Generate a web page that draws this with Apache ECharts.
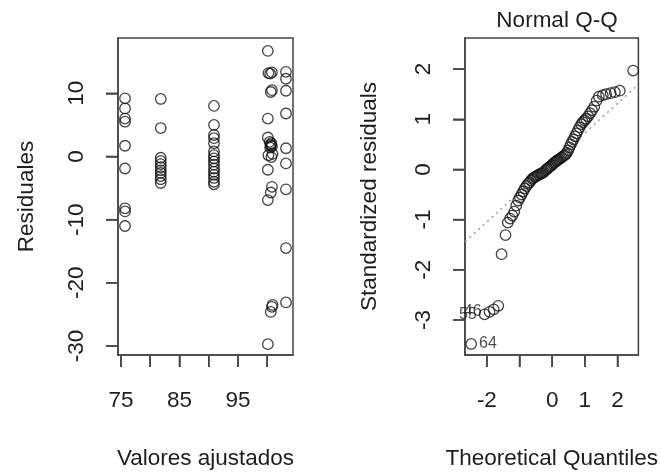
<!DOCTYPE html>
<html>
<head>
<meta charset="utf-8">
<script src="https://cdn.jsdelivr.net/npm/echarts@6/dist/echarts.min.js"></script>
<style>html,body{margin:0;padding:0;background:#fff}#c{width:661px;height:475px}</style>
</head>
<body>
<div id="c"></div>
<script>
// ---- Left panel: residuals vs fitted values ----
const fittedValues = [
  75.7,75.7,75.7,75.7,75.7,75.7,75.7,75.7,75.7,
  81.8,81.8,81.8,81.8,81.8,81.8,81.8,81.8,81.8,81.8,81.8,
  90.9,90.9,90.9,90.9,90.9,90.9,90.9,90.9,90.9,90.9,90.9,90.9,90.9,90.9,90.9,90.9,
  100.1,100.2,100.5,100.8,103.2,103.2,100.8,100.6,103.2,100.1,103.2,100.1,
  100.4,100.6,100.8,100.5,100.7,100.6,103.2,100.2,100.7,100.9,103.2,100.1,
  100.8,100.6,103.2,100.1,103.2,103.2,100.8,100.9,100.6,100.1
];
const residuals = [
  9.2,7.6,6.0,5.5,1.7,-1.9,-8.2,-8.7,-11.0,
  9.1,4.5,-0.2,-0.7,-1.2,-1.7,-2.2,-2.6,-3.1,-3.6,-4.2,
  8.0,5.0,3.4,2.9,2.1,0.8,0.2,-0.3,-0.8,-1.3,-1.9,-2.4,-2.9,-3.4,-4.0,-4.4,
  16.7,13.2,13.1,13.3,13.4,12.3,10.5,10.2,10.4,6.0,6.8,3.0,
  2.3,1.9,1.6,1.4,2.1,1.7,1.3,0.2,-0.1,0.4,-1.1,-2.1,
  -4.8,-5.7,-5.2,-6.9,-14.5,-23.1,-23.8,-23.5,-24.6,-29.7
];
const leftXTicks = [75,80,85,90,95,100];
const leftXLabels = [75,85,95];
const leftYTicks = [-30,-20,-10,0,10];

// ---- Right panel: Normal Q-Q ----
const theoQuantiles = [
  -2.48,-2.07,-1.92,-1.79,-1.65,-1.55,-1.43,-1.36,-1.29,-1.22,
  -1.16,-1.10,-1.04,-0.99,-0.94,-0.89,-0.84,-0.79,-0.74,-0.70,
  -0.65,-0.61,-0.57,-0.53,-0.49,-0.45,-0.41,-0.37,-0.33,-0.29,
  -0.25,-0.21,-0.17,-0.14,-0.10,-0.06,-0.02,0.02,0.06,0.10,
  0.14,0.17,0.21,0.25,0.29,0.33,0.37,0.41,0.45,0.49,
  0.53,0.57,0.61,0.65,0.70,0.74,0.79,0.84,0.89,0.94,
  0.99,1.04,1.10,1.16,1.22,1.29,1.36,1.43,1.55,1.65,
  1.79,1.92,2.07,2.48
];
const stdResiduals = [
  -3.48,-2.89,-2.84,-2.79,-2.72,-1.69,-1.31,-1.06,-0.98,-0.92,
  -0.84,-0.72,-0.62,-0.56,-0.50,-0.44,-0.38,-0.33,-0.29,-0.26,
  -0.22,-0.19,-0.17,-0.15,-0.14,-0.12,-0.11,-0.09,-0.08,-0.07,
  -0.05,-0.02,0.00,0.02,0.04,0.06,0.08,0.11,0.13,0.15,
  0.17,0.19,0.20,0.22,0.24,0.26,0.28,0.30,0.33,0.38,
  0.44,0.50,0.55,0.60,0.66,0.72,0.78,0.84,0.90,0.94,
  0.98,1.01,1.06,1.12,1.18,1.25,1.37,1.45,1.48,1.50,
  1.52,1.54,1.57,1.97
];
const idLabels = ['64','55','46'];      // ids of the three largest |residuals|
const idIndex = [0,1,2];                // their positions in the sorted data
const idPos = ['right','left','left'];
const qqLine = {intercept: 0.135, slope: 0.59};
const rightXTicks = [-2,-1,0,1,2];
const rightXLabels = [-2,0,1,2];
const rightYTicks = [-3,-2,-1,0,1,2];

const leftRange = {xmin: 74.5, xmax: 104.4, ymin: -31.42, ymax: 18.75};
const rightRange = {xmin: -2.67, xmax: 2.64, ymin: -3.70, ymax: 2.62};

const FONT = "'Liberation Sans', Arial, sans-serif";
const TXT = '#1e1e1e';
const FS = 22.5;
const BOX = '#444';
const TICK_LEN = 12;

function mkAxis(gi, r, ticks, labels, isX, name, nameGap, labelMargin) {
  return {
    type: 'value', gridIndex: gi,
    position: isX ? 'bottom' : 'left',
    min: isX ? r.xmin : r.ymin, max: isX ? r.xmax : r.ymax,
    name: name, nameLocation: 'middle', nameGap: nameGap,
    nameTextStyle: {fontFamily: FONT, fontSize: FS, color: TXT},
    axisLine: {show: true, onZero: false, lineStyle: {color: BOX, width: 1.5}},
    splitLine: {show: false},
    axisTick: {show: true, inside: false, length: TICK_LEN, customValues: ticks,
               lineStyle: {color: BOX, width: 1.5}},
    axisLabel: {show: true, customValues: labels, margin: labelMargin,
                fontFamily: FONT, fontSize: FS, color: TXT,
                rotate: isX ? 0 : 90,
                formatter: v => String(v)}
  };
}

const chart = echarts.init(document.getElementById('c'), null, {renderer: 'canvas'});

const circleStyle = {color: 'rgba(0,0,0,0)', borderColor: '#141414', borderWidth: 1.3};

const leftData = fittedValues.map((x, i) => [x, residuals[i]]);
const qqData = theoQuantiles.map((x, i) => {
  const k = idIndex.indexOf(i);
  const d = {value: [x, stdResiduals[i]]};
  if (k >= 0) {
    d.label = {show: true, formatter: idLabels[k], position: idPos[k], distance: 2,
               fontFamily: FONT, fontSize: 16, color: TXT};
  }
  return d;
});
const lineData = [
  [rightRange.xmin, qqLine.intercept + qqLine.slope * rightRange.xmin],
  [rightRange.xmax, qqLine.intercept + qqLine.slope * rightRange.xmax]
];

chart.setOption({
  animation: false,
  backgroundColor: '#fff',
  title: {
    text: 'Normal Q-Q', left: 552, top: 4, textAlign: 'center',
    textStyle: {fontFamily: FONT, fontSize: FS, fontWeight: 'normal', color: TXT}
  },
  grid: [
    {left: 118, top: 38, width: 175, height: 317, show: true, borderColor: BOX, borderWidth: 1.5, backgroundColor: 'transparent'},
    {left: 465, top: 38, width: 174, height: 317, show: true, borderColor: BOX, borderWidth: 1.5, backgroundColor: 'transparent'}
  ],
  xAxis: [
    mkAxis(0, leftRange, leftXTicks, leftXLabels, true, 'Valores ajustados', 92, 34),
    mkAxis(1, rightRange, rightXTicks, rightXLabels, true, 'Theoretical Quantiles', 92, 34)
  ],
  yAxis: [
    mkAxis(0, leftRange, leftYTicks, leftYTicks, false, 'Residuales', 80, 30),
    mkAxis(1, rightRange, rightYTicks, rightYTicks, false, 'Standardized residuals', 84, 30)
  ],
  series: [
    {type: 'scatter', xAxisIndex: 0, yAxisIndex: 0, data: leftData,
     symbol: 'circle', symbolSize: 10.5, itemStyle: circleStyle, clip: false},
    {type: 'line', xAxisIndex: 1, yAxisIndex: 1, data: lineData, showSymbol: false,
     symbol: 'none', lineStyle: {type: [2, 4], color: '#9a9a9a', width: 1.5}, z: 1},
    {type: 'scatter', xAxisIndex: 1, yAxisIndex: 1, data: qqData,
     symbol: 'circle', symbolSize: 10.5, itemStyle: circleStyle, clip: false, z: 3}
  ]
});

// Outward tick marks, positioned through the library's own axis scales.
function tickGraphics(gi, ticks, isX, r) {
  return ticks.map(t => {
    const p = chart.convertToPixel({gridIndex: gi}, isX ? [t, r.ymin] : [r.xmin, t]);
    const shape = isX
      ? {x1: p[0], y1: p[1], x2: p[0], y2: p[1] + TICK_LEN}
      : {x1: p[0], y1: p[1], x2: p[0] - TICK_LEN, y2: p[1]};
    return {type: 'line', shape: shape, silent: true, z: 100,
            style: {stroke: BOX, lineWidth: 1.5}};
  });
}
chart.setOption({
  graphic: [].concat(
    tickGraphics(0, leftXTicks, true, leftRange),
    tickGraphics(0, leftYTicks, false, leftRange),
    tickGraphics(1, rightXTicks, true, rightRange),
    tickGraphics(1, rightYTicks, false, rightRange)
  )
});
</script>
</body>
</html>
